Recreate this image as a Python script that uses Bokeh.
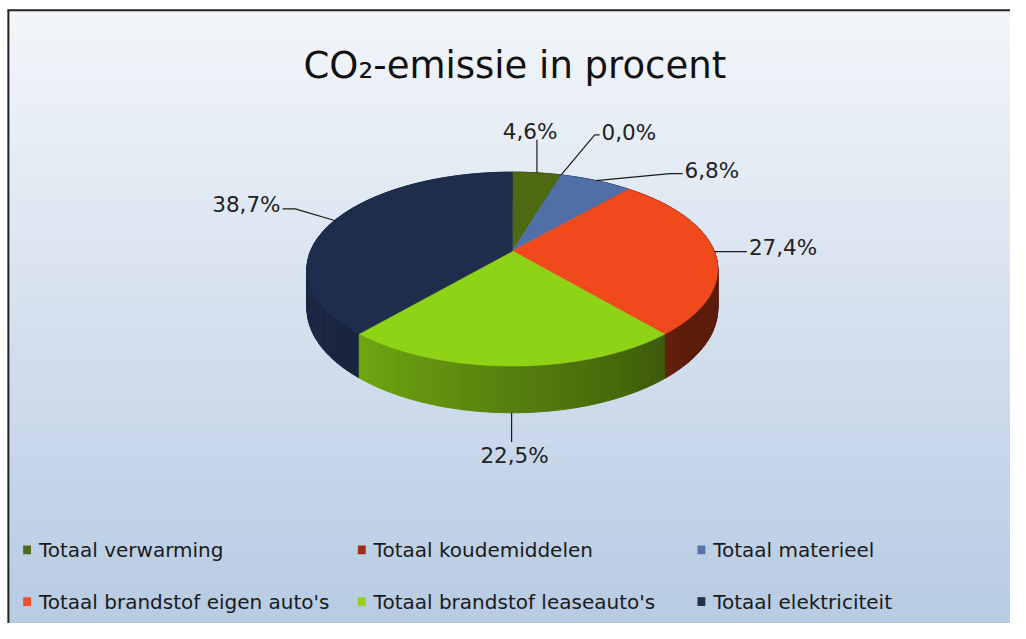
import numpy as np
from bokeh.plotting import figure
from bokeh.models import Range1d
from bokeh.embed import file_html
from bokeh.resources import INLINE
from bokeh.core.properties import value

# ---------------- data ----------------
categories = ["Totaal verwarming", "Totaal koudemiddelen", "Totaal materieel",
              "Totaal brandstof eigen auto's", "Totaal brandstof leaseauto's",
              "Totaal elektriciteit"]
percentages = [4.6, 0.0, 6.8, 27.4, 22.5, 38.7]
top_colors = ["#4d6a12", "#a3301a", "#4f6fa6", "#f04a1c", "#8ed316", "#1f2d4d"]
legend_colors = ["#4f6a1a", "#9e2f18", "#5575a8", "#f2502a", "#92d020", "#203050"]
title_text = "CO\u2082-emissie in procent"

# ---------------- layout (in reference-image pixel units) ----------------
W, H_FIG = 1010, 623
REF_W, REF_H = 1026, 639
CX, CY = 520, 257          # pie apex
RA, RB, PERSP, THICK = 205, 96, 0.186, 39

# label offsets relative to the pie anchor point: (dx, dy, align), leader elbows
label_offsets = [(-7, -42, "center"), (41, -44, "left"), (90, -10, "left"),
                 (35, -4, "left"), (3, 44, "center"), (-55, -16, "right")]
leader_elbows = [[(0, -34)], [(34, -41), (39, -41)], [(75, -7), (88, -7)],
                 [(33, 0)], [(0, 30)], [(-40, -12), (-53, -12)]]
legend_cols = [23, 363, 708]
legend_rows = [564, 617]

FONT = "DejaVu Sans"


def proj(theta_deg, r=1.0, depth=0.0):
    t = np.radians(theta_deg)
    X = r * np.sin(t)
    Z = -r * np.cos(t)
    w = 1 - PERSP * Z
    return CX + RA * X / w, CY + (RB * Z + THICK * depth) / w


def hex_rgb(h):
    h = h.lstrip("#")
    return tuple(int(h[i:i + 2], 16) for i in (0, 2, 4))


def rgb_hex(c):
    return "#%02x%02x%02x" % tuple(int(max(0, min(255, round(v)))) for v in c)


p = figure(width=W, height=H_FIG, output_backend="svg", toolbar_location=None,
           x_range=Range1d(0, REF_W), y_range=Range1d(REF_H, 0),
           min_border=0)
p.axis.visible = False
p.grid.visible = False
p.outline_line_color = None
p.background_fill_color = "white"
p.border_fill_color = "white"

# ---------------- background gradient ----------------
top_c = np.array(hex_rgb("#f3f6fa"))
bot_c = np.array(hex_rgb("#b7cbe3"))
ny = 120
edges = np.linspace(10, REF_H, ny + 1)
cols = [rgb_hex(top_c + (bot_c - top_c) * (i + 0.5) / ny) for i in range(ny)]
p.quad(left=8, right=REF_W, top=edges[:-1], bottom=edges[1:] + 0.8,
       fill_color=cols, line_color=None)
# border (top and left)
p.line([7, REF_W], [10, 10], line_color="#222222", line_width=2)
p.line([8, 8], [10, REF_H], line_color="#222222", line_width=2)

# ---------------- pie ----------------
cum = np.concatenate([[0], np.cumsum(percentages)]) * 3.6

# side walls, sorted back to front
quads = []
for i, pct in enumerate(percentages):
    s, e = cum[i], cum[i + 1]
    if e - s <= 0:
        continue
    base = np.array(hex_rgb(top_colors[i]))
    for t0 in np.arange(s, e, 1.0):
        t1 = min(t0 + 1.0, e)
        xa, ya = proj(t0)
        xb, yb = proj(t1)
        xc, yc = proj(t1, depth=1.0)
        xd, yd = proj(t0, depth=1.0)
        tm = 0.5 * (t0 + t1)
        zdepth = -np.cos(np.radians(tm))
        f = float(np.clip(0.45 + 0.0045 * (tm - 145), 0.38, 0.9))
        quads.append((zdepth, [xa, xb, xc, xd], [ya, yb, yc, yd], rgb_hex(base * f)))
quads.sort(key=lambda q: q[0])
p.patches([q[1] for q in quads], [q[2] for q in quads],
          fill_color=[q[3] for q in quads], line_color=[q[3] for q in quads],
          line_width=1)

# top faces
txs, tys, tcs = [], [], []
for i, pct in enumerate(percentages):
    s, e = cum[i], cum[i + 1]
    if e - s <= 0:
        continue
    th = np.linspace(s, e, max(3, int((e - s) * 2)))
    ax, ay = proj(th)
    txs.append([CX] + list(ax))
    tys.append([CY] + list(ay))
    tcs.append(top_colors[i])
p.patches(txs, tys, fill_color=tcs, line_color=tcs, line_width=0.6)

# ---------------- labels & leaders ----------------
lead_x, lead_y = [], []
for i, pct in enumerate(percentages):
    mid = 0.5 * (cum[i] + cum[i + 1])
    front = np.cos(np.radians(mid)) < -0.7
    axp, ayp = proj(mid, depth=1.0 if front else 0.0)
    dx, dy, al = label_offsets[i]
    lead_x.append([axp] + [axp + ex for ex, ey in leader_elbows[i]])
    lead_y.append([ayp] + [ayp + ey for ex, ey in leader_elbows[i]])
    txt = ("%.1f%%" % pct).replace(".", ",")
    p.text(x=[axp + dx], y=[ayp + dy], text=[txt], text_align=al,
           text_baseline="middle", text_font=value(FONT),
           text_font_size="21.5px", text_color="#222222")
p.multi_line(lead_x, lead_y, line_color="#1a1a1a", line_width=1.2)

# ---------------- title ----------------
p.text(x=[522.5], y=[67], text=[title_text], text_align="center",
       text_baseline="alphabetic", text_font=value(FONT),
       text_font_size="37px", text_color="#111111")

# ---------------- legend ----------------
for i, name in enumerate(categories):
    r, c = divmod(i, 3)
    mx = legend_cols[c]
    my = legend_rows[r]
    p.quad(left=[mx], right=[mx + 8], top=[my - 5], bottom=[my + 4],
           fill_color=legend_colors[i], line_color=None)
    p.text(x=[mx + 16], y=[my], text=[name], text_align="left",
           text_baseline="middle", text_font=value(FONT),
           text_font_size="20px", text_color="#1a1a1a")

open("out.html", "w").write(file_html(p, INLINE))
